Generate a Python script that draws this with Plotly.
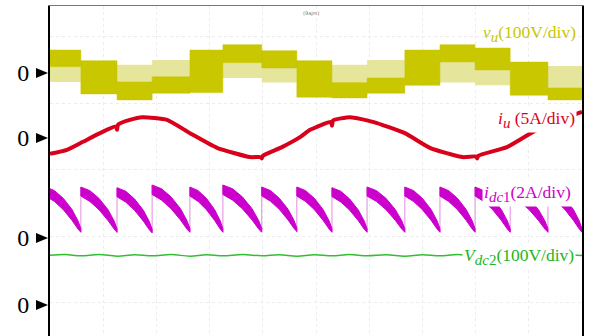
import plotly.graph_objects as go

# ---- time axis: 10 divisions; vertical axis: screen divisions from bottom ----
# v_u : stepped multilevel voltage, per block (dark band + light PWM band)
VU_EDGES_T = [0, 0.58, 1.26, 1.92, 2.63, 3.25, 3.98, 4.64, 5.30, 5.96, 6.67, 7.33, 7.99, 8.65, 9.36, 10.0]
VU_DARK_HI = [4.30, 4.14, 3.82, 3.90, 4.30, 4.38, 4.29, 4.14, 3.81, 3.88, 4.30, 4.38, 4.33, 4.12, 3.73]
VU_DARK_LO = [4.05, 3.64, 3.55, 3.65, 3.66, 4.11, 4.03, 3.59, 3.58, 3.65, 3.77, 4.12, 4.00, 3.62, 3.55]
VU_LIGHT_HI = [4.05, None, 4.08, 4.15, None, 4.11, 4.03, None, 4.08, 4.15, None, 4.12, 4.00, None, 4.06]
VU_LIGHT_LO = [3.82, None, 3.82, 3.90, None, 3.88, 3.81, None, 3.81, 3.88, None, 3.81, 3.77, None, 3.73]

# i_u : phase current
IU_T = [0, 0.32, 0.62, 0.94, 1.24, 1.26, 1.28, 1.50, 1.74, 2.20, 2.63, 3.14, 3.76, 3.97, 3.98, 4.00,
        4.36, 4.70, 4.89, 5.28, 5.30, 5.32, 5.64, 6.07, 6.67, 7.14, 7.76, 8.01, 8.03, 8.05, 8.59,
        9.21, 9.68, 10.0]
IU_V = [2.74, 2.80, 2.92, 3.05, 3.15, 3.10, 3.18, 3.25, 3.29, 3.25, 3.05, 2.83, 2.69, 2.69, 2.67, 2.71,
        2.84, 2.99, 3.10, 3.22, 3.16, 3.24, 3.29, 3.22, 3.05, 2.83, 2.69, 2.70, 2.67, 2.71, 2.84,
        3.13, 3.28, 3.37]

# i_dc1 : sawtooth dc current, one tooth per block
IDC_START_T = [-0.08, 0.58, 1.26, 1.92, 2.63, 3.25, 3.98, 4.64, 5.30, 5.96, 6.67, 7.33, 7.99, 8.65, 9.36]
IDC_PEAK_V = [2.24, 2.24, 2.23, 2.27, 2.24, 2.27, 2.24, 2.24, 2.23, 2.24, 2.24, 2.24, 2.24, 2.24, 2.24]
IDC_VALLEY_V = [1.56, 1.56, 1.55, 1.56, 1.56, 1.56, 1.57, 1.56, 1.56, 1.56, 1.56, 1.56, 1.56, 1.56, 1.56]

# V_dc2 : dc link voltage with small ripple
VDC_T = [0, 0.29, 0.58, 0.92, 1.26, 1.59, 1.92, 2.28, 2.63, 2.94, 3.25, 3.62, 3.98, 4.31, 4.64, 4.97,
         5.30, 5.63, 5.96, 6.32, 6.67, 7.00, 7.33, 7.66, 7.99, 8.32, 8.65, 9.00, 9.36, 9.68, 10.0]
VDC_V = [1.215, 1.225, 1.205, 1.225, 1.20, 1.22, 1.205, 1.225, 1.20, 1.22, 1.205, 1.225, 1.205, 1.22, 1.20, 1.22,
         1.205, 1.225, 1.205, 1.22, 1.20, 1.22, 1.205, 1.225, 1.205, 1.22, 1.205, 1.22, 1.205, 1.22, 1.21]

# channel zero markers
ZERO_V = [3.955, 2.977, 1.474, 0.466]

C_VU = "#c9c700"
C_VU_LIGHT = "#e6e59c"
C_IU = "#d8001a"
C_IDC = "#cc00cc"
C_VDC = "#2fbf2f"

DIV_X = 10.0
TOP_V = 4.962


def blocks(edges, hi, lo):
    xs, ys = [], []
    for i in range(len(hi)):
        if hi[i] is None:
            continue
        a, b = edges[i], edges[i + 1]
        xs += [a, b, b, a, a, None]
        ys += [hi[i], hi[i], lo[i], lo[i], hi[i], None]
    return xs, ys


TOP_PROFILE = [(0, 0.0), (0.25, 0.08), (0.5, 0.25), (0.75, 0.5), (0.92, 0.75), (1.0, 0.92)]
BOT_PROFILE = [(1.0, 1.0), (0.92, 0.93), (0.75, 0.74), (0.5, 0.5), (0.25, 0.32), (0.0, 0.2)]

tx, ty, ex, ey = [], [], [], []
ends = IDC_START_T[1:] + [10.0]
for s, e, pk, vl in zip(IDC_START_T, ends, IDC_PEAK_V, IDC_VALLEY_V):
    w, d = e - s, pk - vl
    for f, dr in TOP_PROFILE + BOT_PROFILE:
        tx.append(s + f * w)
        ty.append(pk - dr * d)
    tx.append(s)
    ty.append(pk)
    tx.append(None)
    ty.append(None)
    ex += [s, s, None]
    ey += [vl, pk, None]

fig = go.Figure()

lx, ly = blocks(VU_EDGES_T, VU_LIGHT_HI, VU_LIGHT_LO)
fig.add_trace(go.Scatter(x=lx, y=ly, mode="lines", fill="toself", fillcolor=C_VU_LIGHT,
                         line=dict(width=0, color=C_VU_LIGHT), hoverinfo="skip"))
dx, dy = blocks(VU_EDGES_T, VU_DARK_HI, VU_DARK_LO)
fig.add_trace(go.Scatter(x=dx, y=dy, mode="lines", fill="toself", fillcolor=C_VU,
                         line=dict(width=0.5, color=C_VU), hoverinfo="skip"))

fig.add_trace(go.Scatter(x=IU_T, y=IU_V, mode="lines",
                         line=dict(color=C_IU, width=4, shape="spline", smoothing=0.5), hoverinfo="skip"))

fig.add_trace(go.Scatter(x=ex, y=ey, mode="lines", line=dict(color="#e48ae4", width=1), hoverinfo="skip"))
fig.add_trace(go.Scatter(x=tx, y=ty, mode="lines", fill="toself", fillcolor=C_IDC,
                         line=dict(width=1, color=C_IDC), hoverinfo="skip"))

fig.add_trace(go.Scatter(x=VDC_T, y=VDC_V, mode="lines",
                         line=dict(color=C_VDC, width=1.5, shape="spline"), hoverinfo="skip"))

# channel zero arrows (drawn just outside the left axis)
for z in ZERO_V:
    fig.add_shape(type="path", xref="paper", yref="y", xsizemode="pixel", ysizemode="pixel",
                  xanchor=0, yanchor=z, path="M -14,5 L -2,0 L -14,-5 Z",
                  fillcolor="black", line=dict(width=0))

SERIF = "Liberation Serif, Times New Roman, serif"
SUB = "<sub><span style='font-size:15px'>{}</span></sub>"
labels = [
    ("<i>v</i>" + SUB.format("<i>u</i>") + "(100V/div)", C_VU, 9.93, 4.55, None),
    ("<i>i</i>" + SUB.format("<i>u</i>") + " (5A/div)", "#e0001a", 9.90, 3.25, "white"),
    ("<i>i</i>" + SUB.format("<i>dc</i>1") + "(2A/div)", C_IDC, 9.84, 2.15, "white"),
    ("<i>V</i>" + SUB.format("<i>dc</i>2") + "(100V/div)", "#22b522", 9.88, 1.19, "white"),
]
for text, col, x, y, bg in labels:
    fig.add_annotation(x=x, y=y, xref="x", yref="y", text=text, showarrow=False,
                       xanchor="right", yanchor="middle",
                       font=dict(family=SERIF, size=17.5, color=col),
                       bgcolor=bg if bg else "rgba(0,0,0,0)", borderpad=1)

fig.add_annotation(x=0.49, y=0.995, xref="paper", yref="paper", text="(9ajm)", showarrow=False,
                   font=dict(family="DejaVu Sans", size=5, color="#777777"), yanchor="top")

fig.update_layout(
    width=592, height=336,
    margin=dict(l=50, r=10, t=6, b=0),
    paper_bgcolor="white", plot_bgcolor="white",
    showlegend=False,
    xaxis=dict(range=[0, DIV_X], side="top", showline=True, linecolor="#777777", linewidth=1,
               showticklabels=False, ticks="", zeroline=False,
               showgrid=True, dtick=1, tick0=0, gridcolor="#ececec", griddash="dot", gridwidth=1),
    yaxis=dict(range=[0, TOP_V], showline=True, linecolor="black", linewidth=2, mirror=True,
               tickvals=ZERO_V, ticktext=["0"] * len(ZERO_V), ticks="", ticklabelstandoff=14,
               tickfont=dict(family=SERIF, size=24, color="black"),
               showgrid=False, zeroline=False,
               minor=dict(tick0=0.5, dtick=1, showgrid=True, gridcolor="#ececec", griddash="dot",
                          ticks="")),
)

fig.write_html("out.html")
